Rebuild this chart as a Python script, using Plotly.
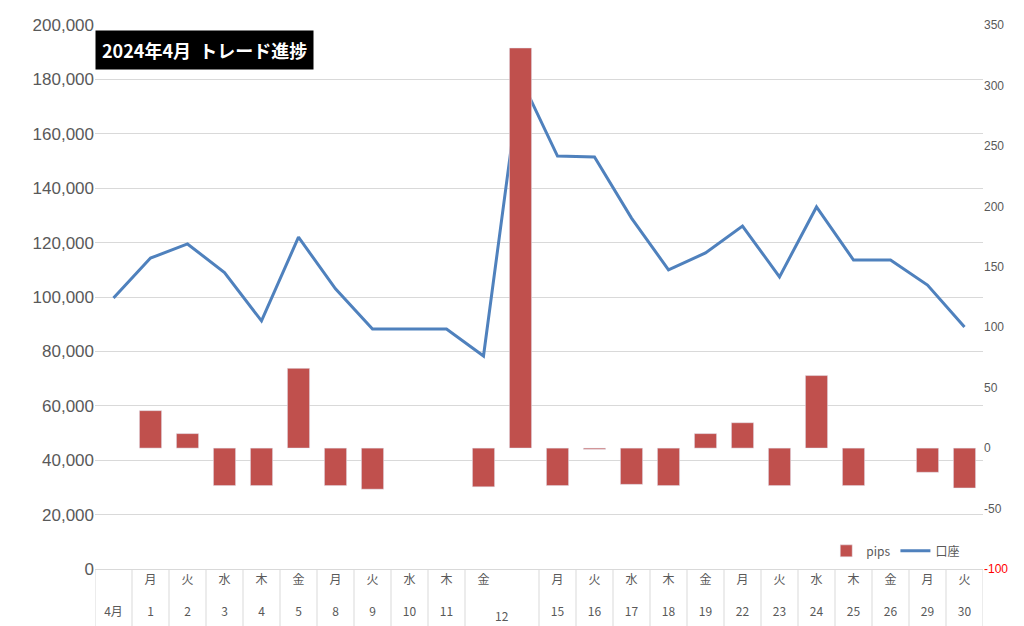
import plotly.graph_objects as go

# categories (weekday / date); the unnamed slot after 12 is the weekend entry
weekdays = ["", "月", "火", "水", "木", "金", "月", "火", "水", "木", "金", "",
            "月", "火", "水", "木", "金", "月", "火", "水", "木", "金", "月", "火"]
dates = ["4月", "1", "2", "3", "4", "5", "8", "9", "10", "11", "12", "",
         "15", "16", "17", "18", "19", "22", "23", "24", "25", "26", "29", "30"]
account = [99600, 114300, 119500, 109000, 91200, 122000, 103000, 88200, 88200, 88200,
           78300, 180500, 151800, 151500, 129000, 110000, 116200, 126100, 107400,
           133100, 113600, 113600, 104400, 89000]
pips = [None, 31, 12, -31, -31, 66, -31, -34, None, None, -32, 331, -31, -1, -30, -31,
        12, 21, -31, 60, -31, None, -20, -33]

cats = list(range(len(dates)))
ticktext = []
for w, d in zip(weekdays, dates):
    if d == "12":
        ticktext.append(w + "<br><br> ")
    else:
        ticktext.append(w + "<br><br>" + d)

fig = go.Figure()
fig.add_trace(go.Bar(x=cats, y=pips, name="pips", marker_color="#c0504d",
                     yaxis="y2"))
fig.add_trace(go.Scatter(x=cats, y=account, name="口座", mode="lines",
                         line=dict(color="#4f81bd", width=3)))

# separators in the category label area
shapes = []
for i in range(len(cats) + 1):
    if i == 11:
        continue
    shapes.append(dict(type="line", xref="x", yref="paper", x0=i - 0.5, x1=i - 0.5,
                       y0=0, y1=-0.108, line=dict(color="#d9d9d9", width=1)))

r_vals = list(range(-100, 351, 50))
r_text = ["<span style='color:red'>-100</span>"] + [str(v) for v in r_vals[1:]]

fig.update_layout(
    width=1024, height=626, barmode="overlay", bargap=0.4,
    paper_bgcolor="white", plot_bgcolor="white",
    margin=dict(l=87, r=49, t=17, b=65),
    font=dict(family="Noto Sans CJK JP", color="#595959"),
    xaxis=dict(tickmode="array", tickvals=cats, ticktext=ticktext, automargin=False,
               range=[-0.5, len(cats) - 0.5], showgrid=False, ticks="",
               tickfont=dict(size=12), showline=True, linecolor="#d9d9d9"),
    yaxis=dict(range=[0, 200000], dtick=20000, tickformat=",", gridcolor="#d9d9d9",
               automargin=False,
               tickfont=dict(size=17, family="Liberation Sans"), zeroline=False),
    yaxis2=dict(range=[-100, 350], overlaying="y", side="right", tickvals=r_vals,
                ticktext=r_text, showgrid=False, zeroline=False, automargin=False,
                tickfont=dict(size=12, family="Liberation Sans")),
    legend=dict(orientation="h", x=0.98, y=0.06, xanchor="right",
                font=dict(size=12, color="#595959"), traceorder="normal"),
    shapes=shapes,
    annotations=[
        dict(text="<b>2024年4月  トレード進捗</b>", xref="paper", yref="paper",
             x=0.0, y=0.99, xanchor="left", yanchor="top", showarrow=False,
             bgcolor="black", font=dict(color="white", size=18), borderpad=6),
        dict(text="12", xref="x", yref="paper", x=10.5, y=-0.085, yanchor="middle",
             showarrow=False, font=dict(size=12, color="#595959")),
    ],
)
fig.write_html("out.html")
